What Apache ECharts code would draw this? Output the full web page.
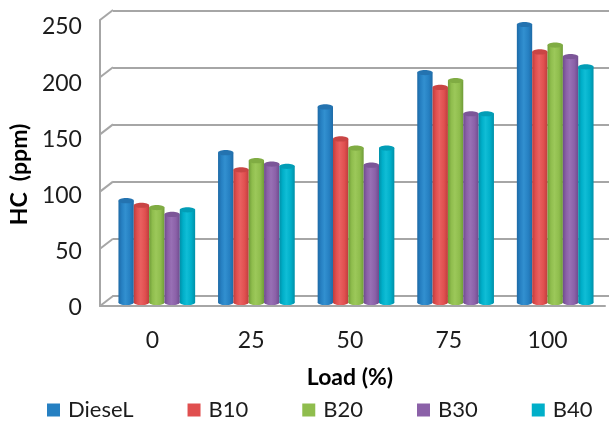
<!DOCTYPE html>
<html>
<head>
<meta charset="utf-8">
<style>html,body{margin:0;padding:0;background:#fff}#chart{width:609px;height:425px}</style>
<script src="https://cdn.jsdelivr.net/npm/echarts@6/dist/echarts.min.js"></script>
</head>
<body>
<div id="chart"></div>
<script>
const loads = ['0', '25', '50', '75', '100'];
const diesel = [89, 131, 171, 201, 243];
const b10 = [85, 116, 143, 188, 219];
const b20 = [83, 124, 135, 194, 225];
const b30 = [77, 121, 120, 165, 215];
const b40 = [81, 119, 135, 165, 206];
const ticks = [0, 50, 100, 150, 200, 250];

const names = ['DieseL', 'B10', 'B20', 'B30', 'B40'];
const values = [diesel, b10, b20, b30, b40];
// base, dark edge, highlight, cap
const palette = [
  ['#2680C2', '#1E6AA6', '#3290D0', '#2473B0'],
  ['#E04F4F', '#BE3D3D', '#E96060', '#C94545'],
  ['#8FBD4D', '#6F9C38', '#9CC85A', '#80AC43'],
  ['#8B61A8', '#6F4C8E', '#9870B5', '#7C5698'],
  ['#00AFC9', '#0090A8', '#10BDD6', '#029DB6']
];
const wallColor = '#A6A6A6';
const textColor = '#1c1c1c';
const font = 'Lato';

// One cylinder per value: a shaded body closed by an elliptical base and top.
function cylinder(seriesIdx) {
  return function (params, api) {
    const cat = api.value(0);
    const top = api.coord([cat, api.value(1)]);
    const base = api.coord([cat, 0]);
    const band = api.size([1, 0])[0];
    const w = band * 0.154;
    const left = top[0] - w * 2.5 + w * seriesIdx;
    const [c, dark, light, cap] = palette[seriesIdx];
    const fill = {
      type: 'linear', x: 0, y: 0, x2: 1, y2: 0,
      colorStops: [
        { offset: 0, color: dark }, { offset: 0.22, color: c },
        { offset: 0.45, color: light }, { offset: 0.75, color: c },
        { offset: 1, color: dark }
      ]
    };
    const rx = w / 2, ry = 2.6;
    return {
      type: 'group',
      children: [
        { type: 'ellipse', shape: { cx: left + rx, cy: base[1], rx, ry }, style: { fill } },
        { type: 'rect', shape: { x: left, y: top[1], width: w, height: base[1] - top[1] }, style: { fill } },
        { type: 'ellipse', shape: { cx: left + rx, cy: top[1], rx, ry }, style: { fill: cap } }
      ]
    };
  };
}

// Short diagonal strokes joining the front wall edge to the back wall gridlines.
function wallConnector(params, api) {
  const p = api.coord([0, api.value(0)]);
  const x0 = params.coordSys.x;
  return {
    type: 'line',
    shape: { x1: x0, y1: p[1], x2: x0 + 13, y2: p[1] - 10 },
    style: { stroke: wallColor, lineWidth: 2 }
  };
}

const hidden = { show: false };
const barSeries = names.map((name, i) => ({
  name,
  type: 'custom',
  xAxisIndex: 0,
  yAxisIndex: 0,
  z: 5,
  clip: false,
  itemStyle: { color: palette[i][0] },
  encode: { x: 0, y: 1 },
  data: values[i].map((v, k) => [k, v]),
  renderItem: cylinder(i)
}));

const option = {
  animation: false,
  backgroundColor: '#fff',
  textStyle: { fontFamily: font },
  legend: {
    data: names,
    left: 42,
    top: 394,
    icon: 'rect',
    itemWidth: 13,
    itemHeight: 13,
    itemGap: 54,
    textStyle: { fontSize: 22, color: textColor, fontFamily: font, padding: [0, 0, 0, 3] }
  },
  grid: [
    { left: 107, width: 498, top: 16.5, height: 286 }, // cylinders
    { left: 113, right: 0, top: 11, height: 285 },     // back wall
    { left: 100, width: 505, top: 20, height: 286 },   // front edges
    { left: 99, width: 498, top: 27, height: 281 }     // tick labels
  ],
  xAxis: [
    { gridIndex: 0, type: 'category', data: loads, ...hidden },
    { gridIndex: 1, type: 'category', data: loads, axisLine: { lineStyle: { color: wallColor, width: 2 } }, axisTick: hidden, axisLabel: hidden },
    { gridIndex: 2, type: 'category', data: loads, axisLine: { lineStyle: { color: wallColor, width: 2 } }, axisTick: hidden, axisLabel: hidden },
    {
      gridIndex: 3, type: 'category', data: loads,
      axisLine: hidden, axisTick: hidden,
      axisLabel: { fontSize: 23, color: textColor, fontFamily: font, margin: 21 },
      name: 'Load (%)', nameLocation: 'middle', nameGap: 58,
      nameTextStyle: { fontSize: 23, fontWeight: 'bold', color: '#000', fontFamily: font }
    }
  ],
  yAxis: [
    { gridIndex: 0, type: 'value', min: 0, max: 250, interval: 50, ...hidden },
    {
      gridIndex: 1, type: 'value', min: 0, max: 250, interval: 50,
      axisLine: hidden, axisTick: hidden, axisLabel: hidden,
      splitLine: { lineStyle: { color: wallColor, width: 2 } }
    },
    {
      gridIndex: 2, type: 'value', min: 0, max: 250, interval: 50,
      axisLine: { show: true, lineStyle: { color: wallColor, width: 2 } },
      axisTick: hidden, axisLabel: hidden, splitLine: hidden
    },
    {
      gridIndex: 3, type: 'value', min: 0, max: 250, interval: 50,
      axisLine: hidden, axisTick: hidden, splitLine: hidden,
      axisLabel: { fontSize: 23, color: textColor, fontFamily: font, margin: 21 },
      name: 'HC  (ppm)', nameLocation: 'middle', nameGap: 63, nameRotate: 90,
      nameTextStyle: { fontSize: 23, fontWeight: 'bold', color: '#000', fontFamily: font, padding: [0, 0, 0, -14] }
    }
  ],
  series: [
    {
      type: 'custom',
      xAxisIndex: 2,
      yAxisIndex: 2,
      z: 1,
      clip: false,
      silent: true,
      encode: { y: 0 },
      data: ticks.map(t => [t]),
      renderItem: wallConnector
    },
    ...barSeries
  ]
};

const chart = echarts.init(document.getElementById('chart'), null, { renderer: 'canvas' });
chart.setOption(option);
</script>
</body>
</html>
